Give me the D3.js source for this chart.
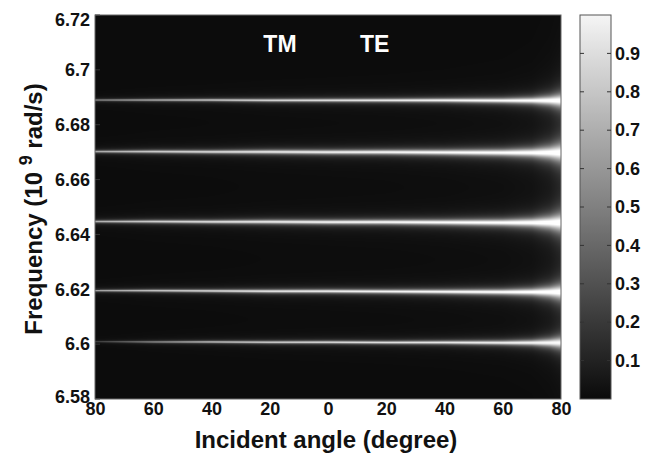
<!DOCTYPE html>
<html>
<head>
<meta charset="utf-8">
<script src="https://cdn.jsdelivr.net/npm/d3@7"></script>
<style>
  html, body { margin: 0; padding: 0; background: #fff; }
  svg text { font-family: "Liberation Sans", Arial, Helvetica, sans-serif; font-weight: bold; }
</style>
</head>
<body>
<svg id="chart" width="657" height="456"></svg>
<script>
// Incident angle: negative side = TM, positive side = TE (labels show |angle|)
const angleTicks = [-80, -60, -40, -20, 0, 20, 40, 60, 80];
const freqTicks = [6.58, 6.6, 6.62, 6.64, 6.66, 6.68, 6.7, 6.72];
const colorTicks = [0.1, 0.2, 0.3, 0.4, 0.5, 0.6, 0.7, 0.8, 0.9];

// Angles at which the resonance parameters are tabulated
const sampleAngles = [-80, -60, -40, -20, 0, 20, 40, 60, 70, 76, 80];

// Resonance centre frequencies (10^9 rad/s) of each mode at sampleAngles
const modeFreq = [
  [6.6009, 6.6008, 6.6008, 6.6007, 6.6007, 6.6006, 6.6006, 6.6005, 6.6005, 6.6005, 6.6005],
  [6.6195, 6.6195, 6.6194, 6.6193, 6.6193, 6.6192, 6.6191, 6.6190, 6.6190, 6.6190, 6.6190],
  [6.6447, 6.6447, 6.6446, 6.6446, 6.6445, 6.6445, 6.6444, 6.6443, 6.6443, 6.6443, 6.6443],
  [6.6702, 6.6702, 6.6701, 6.6701, 6.6700, 6.6700, 6.6699, 6.6698, 6.6698, 6.6698, 6.6698],
  [6.6890, 6.6890, 6.6890, 6.6889, 6.6889, 6.6889, 6.6889, 6.6888, 6.6888, 6.6888, 6.6888]
];

// Peak transmission of each mode at sampleAngles
const modePeak = [
  [0.20, 0.50, 0.70, 0.75, 0.80, 0.82, 0.85, 0.88, 0.90, 0.92, 0.92],
  [0.60, 0.72, 0.80, 0.85, 0.88, 0.90, 0.93, 0.95, 0.97, 0.98, 0.98],
  [0.64, 0.75, 0.82, 0.86, 0.90, 0.92, 0.94, 0.96, 0.98, 0.99, 0.99],
  [0.62, 0.74, 0.80, 0.85, 0.88, 0.91, 0.93, 0.95, 0.97, 0.98, 0.98],
  [0.50, 0.62, 0.72, 0.78, 0.82, 0.86, 0.90, 0.93, 0.95, 0.97, 0.97]
];

// Half-width of the resonances (10^9 rad/s) at sampleAngles, and per-mode scale
const halfWidth = [0.00035, 0.00045, 0.0005, 0.0006, 0.00065, 0.0007, 0.0008, 0.001, 0.0013, 0.0019, 0.0028];
const modeWidthScale = [0.7, 0.9, 1.1, 1.1, 0.8];
const backgroundLevel = 0.045;

const svg = d3.select("#chart");
const plot = { left: 95, right: 561, top: 15, bottom: 399 };
const bar = { left: 580, right: 611 };

const x = d3.scaleLinear().domain([-80, 80]).range([plot.left, plot.right]);
const y = d3.scaleLinear().domain([6.58, 6.72]).range([plot.bottom, plot.top]);
const c = d3.scaleLinear().domain([0, 1]).range([plot.bottom, plot.top]);
const gray = v => { const g = Math.round(Math.max(0, Math.min(1, v)) * 255); return `rgb(${g},${g},${g})`; };

// ---- intensity map rendered into a canvas, then placed as an image ----
const W = plot.right - plot.left, H = plot.bottom - plot.top;
const canvas = document.createElement("canvas");
canvas.width = W; canvas.height = H;
const ctx = canvas.getContext("2d");
const img = ctx.createImageData(W, H);

const lerp = arr => d3.scaleLinear().domain(sampleAngles).range(arr).clamp(true);
const fAt = modeFreq.map(lerp), pAt = modePeak.map(lerp), wAt = lerp(halfWidth);

for (let px = 0; px < W; px++) {
  const a = x.invert(plot.left + px + 0.5);
  const centres = fAt.map(s => s(a));
  const peaks = pAt.map(s => s(a));
  const widths = modeWidthScale.map(k => k * wAt(a));
  for (let py = 0; py < H; py++) {
    const f = y.invert(plot.top + py + 0.5);
    let v = backgroundLevel;
    for (let m = 0; m < centres.length; m++) {
      const d = (f - centres[m]) / widths[m];
      v += peaks[m] / (1 + d * d);
    }
    const g = Math.round(Math.min(1, v) * 255);
    const i = (py * W + px) * 4;
    img.data[i] = g; img.data[i + 1] = g; img.data[i + 2] = g; img.data[i + 3] = 255;
  }
}
ctx.putImageData(img, 0, 0);

svg.append("image")
  .attr("x", plot.left).attr("y", plot.top)
  .attr("width", W).attr("height", H)
  .attr("preserveAspectRatio", "none")
  .attr("href", canvas.toDataURL());

// ---- axes ----
const xAxis = d3.axisBottom(x).tickValues(angleTicks).tickFormat(d => Math.abs(d)).tickSize(0).tickPadding(0);
const gx = svg.append("g").attr("transform", `translate(0,${plot.bottom})`).call(xAxis);
gx.select(".domain").remove();
gx.selectAll("text").attr("dy", null).attr("y", 16).attr("font-size", 18).attr("fill", "#111");

const yAxis = d3.axisLeft(y).tickValues(freqTicks).tickFormat(d3.format("~g")).tickSize(0).tickPadding(5);
const gy = svg.append("g").attr("transform", `translate(${plot.left},0)`).call(yAxis);
gy.select(".domain").remove();
gy.selectAll("text").attr("font-size", 18).attr("fill", "#111");
gy.selectAll(".tick").filter(d => d === 6.72).select("text").attr("dy", "0.6em");
gy.selectAll(".tick").filter(d => d === 6.58).select("text").attr("dy", "0.2em");

// inward tick marks on the frame
svg.append("g").selectAll("line").data(freqTicks).join("line")
  .attr("x1", plot.left).attr("x2", plot.left + 5)
  .attr("y1", d => y(d)).attr("y2", d => y(d))
  .attr("stroke", "#333");

svg.append("rect")
  .attr("x", plot.left).attr("y", plot.top).attr("width", W).attr("height", H)
  .attr("fill", "none").attr("stroke", "#666").attr("stroke-width", 1);

// polarisation labels
svg.append("text").attr("x", x(-16.5)).attr("y", 52).attr("text-anchor", "middle")
  .attr("font-size", 23).attr("fill", "#fff").text("TM");
svg.append("text").attr("x", x(16)).attr("y", 52).attr("text-anchor", "middle")
  .attr("font-size", 23).attr("fill", "#fff").text("TE");

// axis titles
svg.append("text").attr("x", (plot.left + plot.right) / 2 - 2).attr("y", 448)
  .attr("text-anchor", "middle").attr("font-size", 24).attr("fill", "#111")
  .text("Incident angle (degree)");

const yl = svg.append("text")
  .attr("transform", `translate(42,${(plot.top + plot.bottom) / 2 + 2}) rotate(-90)`)
  .attr("text-anchor", "middle").attr("font-size", 24).attr("fill", "#111");
yl.append("tspan").text("Frequency (10 ");
yl.append("tspan").attr("font-size", 18).attr("dy", -10).text("9");
yl.append("tspan").attr("dy", 10).text(" rad/s)");

// ---- colour bar ----
const defs = svg.append("defs");
const grad = defs.append("linearGradient").attr("id", "grayRamp")
  .attr("x1", 0).attr("y1", 1).attr("x2", 0).attr("y2", 0);
d3.range(0, 1.0001, 0.1).forEach(t => grad.append("stop").attr("offset", t).attr("stop-color", gray(0.04 + 0.92 * t)));

svg.append("rect")
  .attr("x", bar.left).attr("y", plot.top).attr("width", bar.right - bar.left).attr("height", H)
  .attr("fill", "url(#grayRamp)").attr("stroke", "#555").attr("stroke-width", 1);

const cAxis = d3.axisRight(c).tickValues(colorTicks).tickFormat(d3.format(".1f")).tickSize(0).tickPadding(4);
const gc = svg.append("g").attr("transform", `translate(${bar.right},0)`).call(cAxis);
gc.select(".domain").remove();
gc.selectAll("text").attr("font-size", 18).attr("fill", "#111");

const cTicks = svg.append("g").attr("stroke", "#333");
cTicks.selectAll("line.l").data(colorTicks).join("line").attr("class", "l")
  .attr("x1", bar.left).attr("x2", bar.left + 4).attr("y1", d => c(d)).attr("y2", d => c(d));
cTicks.selectAll("line.r").data(colorTicks).join("line").attr("class", "r")
  .attr("x1", bar.right - 4).attr("x2", bar.right).attr("y1", d => c(d)).attr("y2", d => c(d));
</script>
</body>
</html>
